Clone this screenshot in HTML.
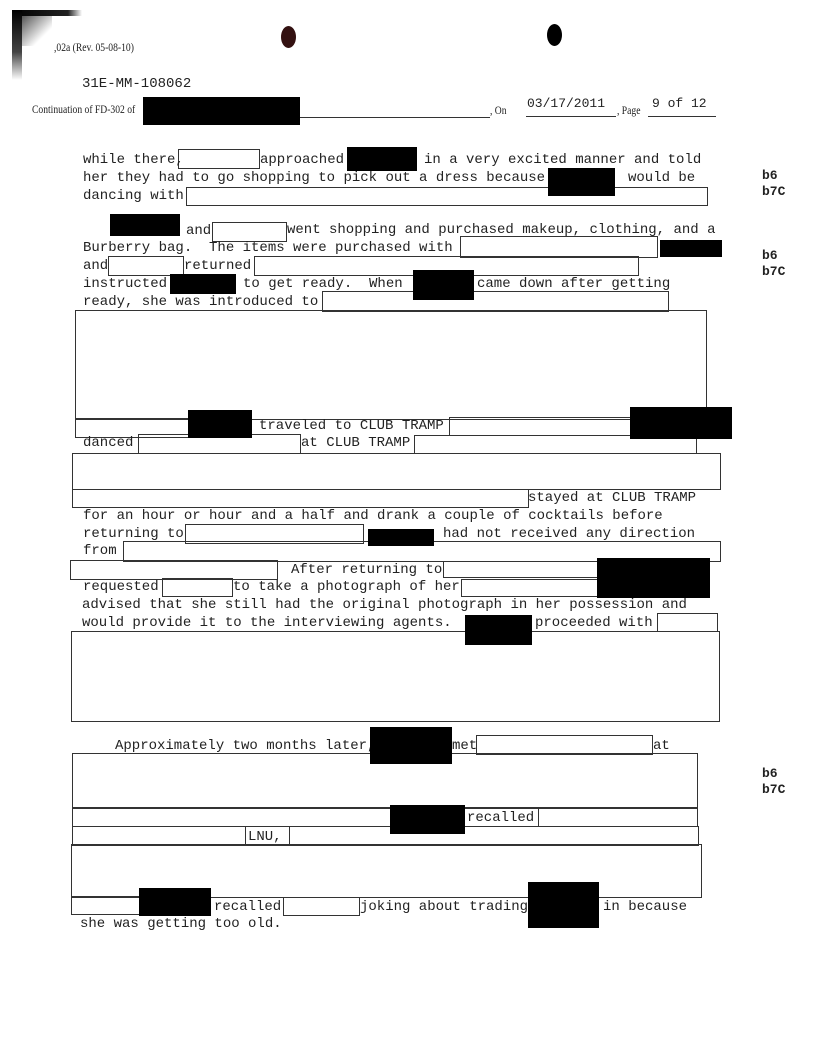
<!DOCTYPE html>
<html><head><meta charset="utf-8"><style>
body{margin:0;background:#fff}
#p{position:relative;width:816px;height:1056px;overflow:hidden;background:#fff;font-family:"Liberation Mono",monospace;font-size:14px;color:#222}
.t{position:absolute;white-space:pre;line-height:16px;z-index:2}
.b{position:absolute;border:1.5px solid #333;box-sizing:border-box;z-index:1}
.k{position:absolute;background:#000;z-index:3}
.s{font-family:"Liberation Serif",serif;font-size:12px;transform:scaleX(.8);transform-origin:left}
.m{font-weight:bold;font-size:13px}
</style></head><body><div id="p">
<div style="position:absolute;left:12px;top:10px;width:70px;height:6px;background:linear-gradient(90deg,#000,#222 80%,#fff)"></div>
<div style="position:absolute;left:12px;top:10px;width:10px;height:70px;background:linear-gradient(180deg,#000,#444 60%,#fff)"></div>
<div style="position:absolute;left:22px;top:16px;width:30px;height:30px;background:linear-gradient(135deg,#555,#fff 70%)"></div>
<div class="k" style="left:281px;top:26px;width:15px;height:22px;border-radius:50%;background:#311"></div>
<div class="k" style="left:547px;top:24px;width:15px;height:22px;border-radius:50%"></div>
<div class="t s" style="left:54px;top:39px">,02a (Rev. 05-08-10)</div>
<div class="t" style="left:82px;top:76px">31E-MM-108062</div>
<div class="t s" style="left:32px;top:101px">Continuation of FD-302 of</div>
<div class="k" style="left:143px;top:97px;width:157px;height:28px"></div>
<div style="position:absolute;left:300px;top:117px;width:190px;border-top:1px solid #333"></div>
<div class="t s" style="left:490px;top:102px">, On</div>
<div class="t" style="left:527px;top:96px;font-size:13px">03/17/2011</div>
<div style="position:absolute;left:526px;top:116px;width:90px;border-top:1px solid #333"></div>
<div class="t s" style="left:617px;top:102px">, Page</div>
<div class="t" style="left:652px;top:96px;font-size:13px">9 of 12</div>
<div style="position:absolute;left:648px;top:116px;width:68px;border-top:1px solid #333"></div>

<div class="t" style="left:83px;top:152px">while there,</div>
<div class="b" style="left:178px;top:149px;width:82px;height:20px"></div>
<div class="t" style="left:260px;top:152px">approached</div>
<div class="k" style="left:347px;top:147px;width:70px;height:24px"></div>
<div class="t" style="left:424px;top:152px">in a very excited manner and told</div>
<div class="t" style="left:83px;top:170px">her they had to go shopping to pick out a dress because</div>
<div class="k" style="left:548px;top:168px;width:67px;height:28px"></div>
<div class="t" style="left:628px;top:170px">would be</div>
<div class="t" style="left:83px;top:188px">dancing with</div>
<div class="b" style="left:186px;top:187px;width:522px;height:19px"></div>
<div class="t m" style="left:762px;top:168px">b6<br>b7C</div>

<div class="k" style="left:110px;top:214px;width:70px;height:22px"></div>
<div class="t" style="left:186px;top:223px">and</div>
<div class="b" style="left:212px;top:222px;width:75px;height:20px"></div>
<div class="t" style="left:287px;top:222px">went shopping and purchased makeup, clothing, and a</div>
<div class="t" style="left:83px;top:240px">Burberry bag.  The items were purchased with</div>
<div class="b" style="left:460px;top:236px;width:198px;height:22px"></div>
<div class="k" style="left:660px;top:240px;width:62px;height:17px"></div>
<div class="t" style="left:83px;top:258px">and</div>
<div class="b" style="left:108px;top:256px;width:76px;height:20px"></div>
<div class="t" style="left:184px;top:258px">returned</div>
<div class="b" style="left:254px;top:256px;width:385px;height:20px"></div>
<div class="t" style="left:83px;top:276px">instructed</div>
<div class="k" style="left:170px;top:274px;width:66px;height:20px"></div>
<div class="t" style="left:243px;top:276px">to get ready.  When (</div>
<div class="k" style="left:413px;top:270px;width:61px;height:30px"></div>
<div class="t" style="left:477px;top:276px">came down after getting</div>
<div class="t" style="left:83px;top:294px">ready, she was introduced to</div>
<div class="b" style="left:322px;top:291px;width:347px;height:21px"></div>
<div class="t m" style="left:762px;top:248px">b6<br>b7C</div>

<div class="b" style="left:75px;top:310px;width:632px;height:110px"></div>
<div class="b" style="left:75px;top:418px;width:115px;height:20px"></div>
<div class="k" style="left:188px;top:410px;width:64px;height:28px"></div>
<div class="t" style="left:259px;top:418px">traveled to CLUB TRAMP</div>
<div class="b" style="left:449px;top:417px;width:184px;height:19px"></div>
<div class="k" style="left:630px;top:407px;width:102px;height:32px"></div>
<div class="t" style="left:83px;top:435px">danced</div>
<div class="b" style="left:138px;top:434px;width:163px;height:20px"></div>
<div class="t" style="left:301px;top:435px">at CLUB TRAMP</div>
<div class="b" style="left:414px;top:435px;width:283px;height:19px"></div>
<div class="b" style="left:72px;top:453px;width:649px;height:37px"></div>
<div class="b" style="left:72px;top:489px;width:457px;height:19px"></div>
<div class="t" style="left:528px;top:490px">stayed at CLUB TRAMP</div>
<div class="t" style="left:83px;top:508px">for an hour or hour and a half and drank a couple of cocktails before</div>
<div class="t" style="left:83px;top:526px">returning to</div>
<div class="b" style="left:185px;top:524px;width:179px;height:20px"></div>
<div class="k" style="left:368px;top:529px;width:66px;height:17px"></div>
<div class="t" style="left:443px;top:526px">had not received any direction</div>
<div class="t" style="left:83px;top:543px">from</div>
<div class="b" style="left:123px;top:541px;width:598px;height:21px"></div>
<div class="b" style="left:70px;top:560px;width:208px;height:20px"></div>
<div class="t" style="left:291px;top:562px">After returning to</div>
<div class="b" style="left:443px;top:561px;width:156px;height:17px"></div>
<div class="t" style="left:83px;top:579px">requested</div>
<div class="b" style="left:162px;top:578px;width:71px;height:19px"></div>
<div class="t" style="left:233px;top:579px">to take a photograph of her</div>
<div class="b" style="left:461px;top:579px;width:138px;height:18px"></div>
<div class="k" style="left:597px;top:558px;width:113px;height:40px"></div>
<div class="t" style="left:82px;top:597px">advised that she still had the original photograph in her possession and</div>
<div class="t" style="left:82px;top:615px">would provide it to the interviewing agents.</div>
<div class="t" style="left:535px;top:615px">proceeded with</div>
<div class="b" style="left:657px;top:613px;width:61px;height:19px"></div>
<div class="b" style="left:71px;top:631px;width:649px;height:91px"></div>
<div class="k" style="left:465px;top:615px;width:67px;height:30px"></div>

<div class="t" style="left:115px;top:738px">Approximately two months later,</div>
<div class="k" style="left:370px;top:727px;width:82px;height:37px"></div>
<div class="t" style="left:452px;top:738px">met</div>
<div class="b" style="left:476px;top:735px;width:177px;height:20px"></div>
<div class="t" style="left:653px;top:738px">at</div>
<div class="b" style="left:72px;top:753px;width:626px;height:56px"></div>
<div class="b" style="left:72px;top:807px;width:626px;height:20px"></div>
<div class="b" style="left:538px;top:807px;width:160px;height:20px"></div>
<div class="k" style="left:390px;top:805px;width:75px;height:29px"></div>
<div class="t" style="left:467px;top:810px">recalled</div>
<div class="b" style="left:72px;top:826px;width:627px;height:20px"></div>
<div class="b" style="left:245px;top:826px;width:45px;height:20px"></div>
<div class="t" style="left:248px;top:829px">LNU,</div>
<div class="b" style="left:71px;top:844px;width:631px;height:54px"></div>
<div class="b" style="left:71px;top:896px;width:70px;height:19px"></div>
<div class="k" style="left:139px;top:888px;width:72px;height:28px"></div>
<div class="t" style="left:214px;top:899px">recalled</div>
<div class="b" style="left:283px;top:897px;width:77px;height:19px"></div>
<div class="t" style="left:360px;top:899px">joking about trading</div>
<div class="k" style="left:528px;top:882px;width:71px;height:46px"></div>
<div class="t" style="left:603px;top:899px">in because</div>
<div class="t" style="left:80px;top:916px">she was getting too old.</div>
<div class="t m" style="left:762px;top:766px">b6<br>b7C</div>
</div></body></html>
